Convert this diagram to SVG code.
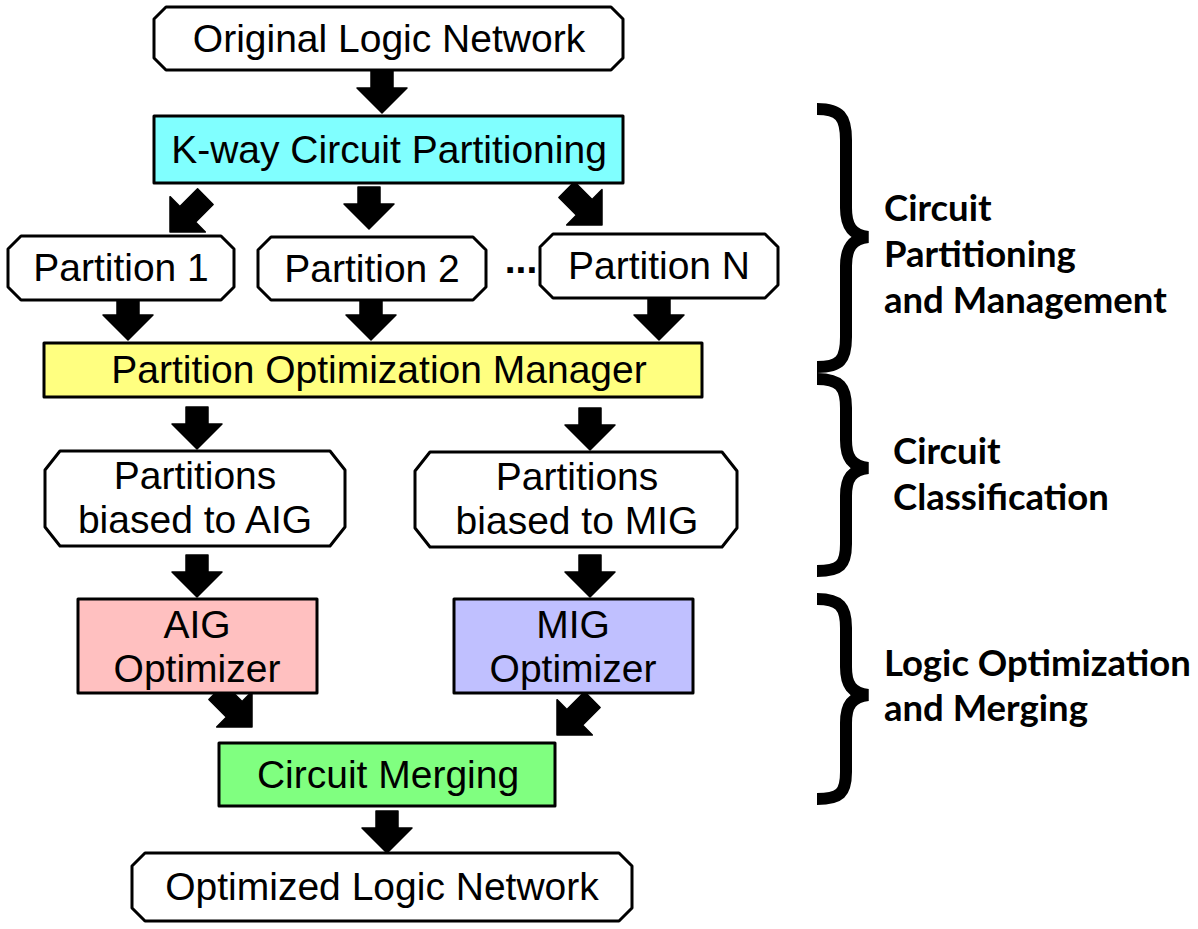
<svg xmlns="http://www.w3.org/2000/svg" xmlns:xlink="http://www.w3.org/1999/xlink" width="1198" height="929" viewBox="0 0 1198 929">
<style>
.box{stroke:#000;stroke-width:3;stroke-linejoin:round}
.t{font-family:"Liberation Sans",Arial,Helvetica,sans-serif;font-size:39px;fill:#000;text-anchor:middle}
.lbl{font-family:Lato,"Open Sans",sans-serif;font-weight:700;font-size:36.5px;fill:#000}
.brace{fill:none;stroke:#000;stroke-width:12}
.arr{fill:#000;stroke:#000;stroke-width:1.5;stroke-linejoin:round}
</style>
<defs>
<path id="av" d="M-11,-42 L11,-42 L11,-25 L25,-25 L0,0 L-25,-25 L-11,-25 Z"/>
<path id="ad" d="M-11,-50 L11,-50 L11,-25 L25,-25 L0,0 L-25,-25 L-11,-25 Z"/>
</defs>
<rect width="1198" height="929" fill="#fff"/>
<g id="connectors" class="arr">
<use xlink:href="#av" transform="translate(382,113)"/>
<use xlink:href="#ad" transform="translate(170,232) rotate(45)"/>
<use xlink:href="#av" transform="translate(369,229)"/>
<use xlink:href="#ad" transform="translate(602,225) rotate(-45)"/>
<use xlink:href="#av" transform="translate(128,340)"/>
<use xlink:href="#av" transform="translate(371,340)"/>
<use xlink:href="#av" transform="translate(659,340)"/>
<use xlink:href="#av" transform="translate(197,449)"/>
<use xlink:href="#av" transform="translate(590,450)"/>
<use xlink:href="#av" transform="translate(197,597)"/>
<use xlink:href="#av" transform="translate(590,597)"/>
<use xlink:href="#ad" transform="translate(252,727) rotate(-45)"/>
<use xlink:href="#ad" transform="translate(557,735) rotate(45)"/>
<use xlink:href="#av" transform="translate(387,853)"/>
</g>
<g id="n-original">
<polygon class="box" fill="#fff" points="166,7 611,7 623,19 623,58 611,70 166,70 154,58 154,19"/>
<text class="t" x="389" y="52">Original Logic Network</text>
</g>
<g id="n-kway">
<rect class="box" fill="#80FFFF" x="154" y="116" width="469" height="67"/>
<text class="t" x="389" y="163">K-way Circuit Partitioning</text>
</g>
<g id="n-p1">
<polygon class="box" fill="#fff" points="21,236 221,236 234,249 234,287 221,300 21,300 8,287 8,249"/>
<text class="t" x="121" y="281">Partition 1</text>
</g>
<g id="n-p2">
<polygon class="box" fill="#fff" points="271,237 473,237 486,250 486,287 473,300 271,300 258,287 258,250"/>
<text class="t" x="372" y="282">Partition 2</text>
</g>
<g id="n-dots">
<text class="t" x="521" y="273" font-weight="bold">...</text>
</g>
<g id="n-pn">
<polygon class="box" fill="#fff" points="553,234 765,234 778,247 778,285 765,298 553,298 540,285 540,247"/>
<text class="t" x="659" y="279">Partition N</text>
</g>
<g id="n-manager">
<rect class="box" fill="#FFFF80" x="44" y="343" width="658" height="54"/>
<text class="t" x="379" y="383">Partition Optimization Manager</text>
</g>
<g id="n-baig">
<polygon class="box" fill="#fff" points="60,451 330,451 345,470 345,527 330,546 60,546 45,527 45,470"/>
<text class="t" x="195" y="489">Partitions</text>
<text class="t" x="195" y="533">biased to AIG</text>
</g>
<g id="n-bmig">
<polygon class="box" fill="#fff" points="430,452 722,452 737,471 737,528 722,547 430,547 415,528 415,471"/>
<text class="t" x="577" y="490">Partitions</text>
<text class="t" x="577" y="534">biased to MIG</text>
</g>
<g id="n-aigopt">
<rect class="box" fill="#FFC0C0" x="78" y="599" width="239" height="94"/>
<text class="t" x="197" y="638">AIG</text>
<text class="t" x="197" y="682">Optimizer</text>
</g>
<g id="n-migopt">
<rect class="box" fill="#C0C0FF" x="454" y="599" width="239" height="94"/>
<text class="t" x="573" y="638">MIG</text>
<text class="t" x="573" y="682">Optimizer</text>
</g>
<g id="n-merge">
<rect class="box" fill="#80FF80" x="219" y="743" width="336" height="63"/>
<text class="t" x="388" y="788">Circuit Merging</text>
</g>
<g id="n-optimized">
<polygon class="box" fill="#fff" points="145,853 619,853 632,866 632,908 619,921 145,921 132,908 132,866"/>
<text class="t" x="382" y="900">Optimized Logic Network</text>
</g>
<g id="b-partition">
<path class="brace" d="M817,109 C840,109 846,117 846,140 L846,208 C846,226 852,235 868,237 C852,239 846,248 846,266 L846,337 C846,360 840,367 817,367"/>
<text class="lbl" x="884" y="221">Circuit</text>
<text class="lbl" x="884" y="267">Partitioning</text>
<text class="lbl" x="884" y="313">and Management</text>
</g>
<g id="b-class">
<path class="brace" d="M817,379 C840,379 846,387 846,408 L846,440 C846,458 852,466 868,468 C852,470 846,478 846,496 L846,544 C846,565 840,571 817,571"/>
<text class="lbl" x="893" y="464">Circuit</text>
<text class="lbl" x="893" y="510">Classification</text>
</g>
<g id="b-logic">
<path class="brace" d="M817,599 C840,599 846,607 846,628 L846,667 C846,685 852,693 868,695 C852,697 846,705 846,723 L846,772 C846,793 840,799 817,799"/>
<text class="lbl" x="884" y="676">Logic Optimization</text>
<text class="lbl" x="884" y="721">and Merging</text>
</g>
</svg>
